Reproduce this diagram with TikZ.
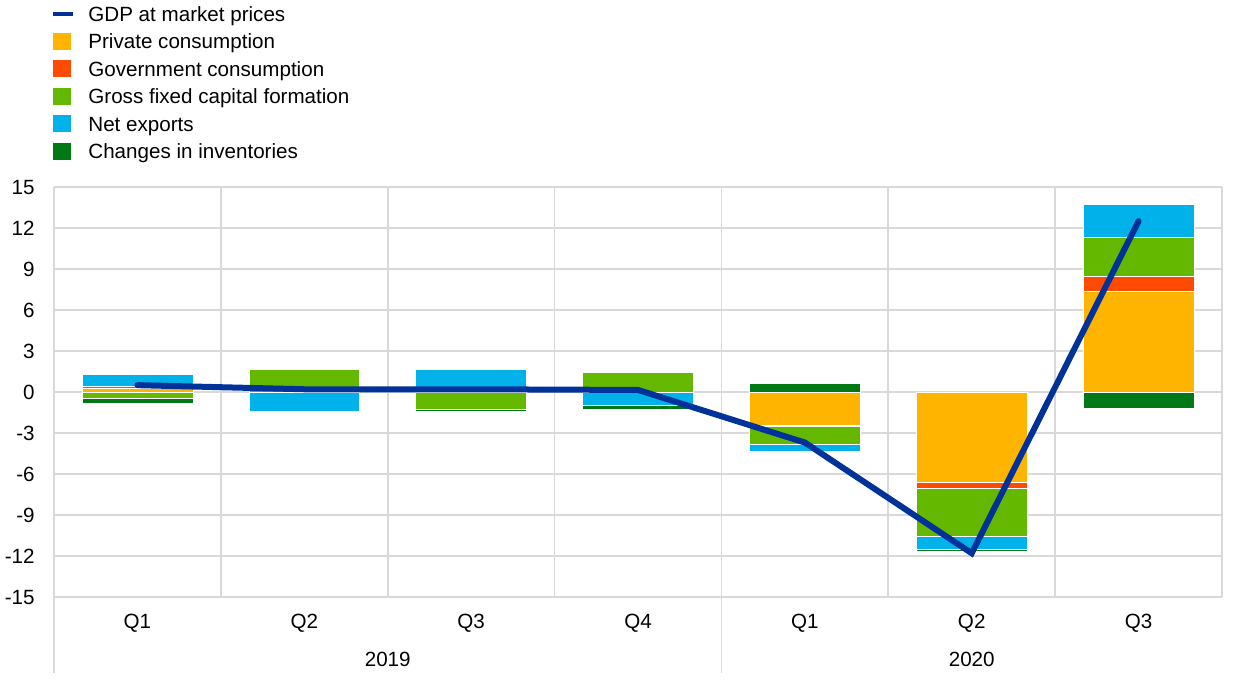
\documentclass[tikz,border=0pt]{standalone}
\usepackage{fontspec}
\setmainfont{Liberation Sans}
\definecolor{gdpblue}{HTML}{003299}
\definecolor{privcons}{HTML}{FFB400}
\definecolor{govcons}{HTML}{FF4B00}
\definecolor{gfcf}{HTML}{65B800}
\definecolor{netexp}{HTML}{00B1EA}
\definecolor{invent}{HTML}{007816}
\definecolor{gridgrey}{HTML}{D9D9D9}
\colorlet{part1}{privcons}
\colorlet{part2}{govcons}
\colorlet{part3}{gfcf}
\colorlet{part4}{netexp}
\colorlet{part5}{invent}

\begin{document}
\begin{tikzpicture}[x=83.43pt,y=6.8333pt,font=\fontsize{10.3}{12}\selectfont,
    grid/.style={gridgrey,line width=0.8pt},
    seg/.style={draw=white,line width=0.3pt},
    key/.style={inner sep=0,minimum width=9pt,minimum height=8.5pt},
    lab/.style={inner sep=0,text height=7.4pt,text depth=0pt},
    gdp/.style={gdpblue,line width=3pt,line cap=round}]
  \useasboundingbox (-0.3236,-22.097) rectangle (7.1078,28.683);
  % grid and axis labels
  \foreach \v [count=\n] in {-15,-12,...,15} {
    \draw[grid] (0,\v) -- (7,\v);
    \node[lab,anchor=east] (tick\n) at (-0.114,\v) {\v};
  }
  \foreach \i in {1,2,3,5,6,7} \draw[grid] (\i,-15) -- (\i,15);
  \draw[grid] (0,-20.56) -- (0,15);
  \draw[grid] (4,-20.56) -- (4,15);
  % stacked bars
  \foreach \q/\vals in {0/{0.3,0.1,-0.45,0.9,-0.37},1/{0,0,1.68,-1.44,0},
      2/{0,0,-1.27,1.68,-0.14},3/{0,0,1.44,-0.97,-0.3},
      4/{-2.41,-0.07,-1.32,-0.51,0.61},5/{-6.6,-0.42,-3.54,-0.93,-0.2},
      6/{7.34,1.13,2.85,2.41,-1.2}} {
    \gdef\cumpos{0}\gdef\cumneg{0}
    \foreach \v [count=\k] in \vals {
      \pgfmathsetmacro\barlo{\v<0 ? \cumneg+\v : \cumpos}
      \pgfmathsetmacro\barhi{\v<0 ? \cumneg : \cumpos+\v}
      \path[fill=part\k,seg] (\q+0.1675,\barlo) rectangle (\q+0.8325,\barhi);
      \pgfmathsetmacro\newpos{\v<0 ? \cumpos : \cumpos+\v}
      \pgfmathsetmacro\newneg{\v<0 ? \cumneg+\v : \cumneg}
      \xdef\cumpos{\newpos}\xdef\cumneg{\newneg}
    }
  }
  % GDP line
  \foreach \g [count=\n] in {0.5,0.2,0.2,0.15,-3.7,-11.8,12.5}
    \coordinate (g\n) at (\n-0.5,\g);
  \draw[gdp] (g1) -- (g2) -- (g3) -- (g4) -- (g5) -- (g6) -- (g7);
  % categories
  \foreach \lab [count=\n] in {Q1,Q2,Q3,Q4,Q1,Q2,Q3}
    \node[lab] (quarter\n) at (\n-0.5,-16.76) {\lab};
  \node[lab] (year2019) at (2,-19.54) {2019};
  \node[lab] (year2020) at (5.5,-19.54) {2020};
  % legend
  \node[key,minimum width=10pt,minimum height=2.4pt,fill=gdpblue] (key1) at (0.051,27.66) {};
  \node[lab,anchor=west] (label1) at (0.2038,27.66) {GDP at market prices};
  \foreach \name/\col [count=\n from 2] in {Private consumption/privcons,
      Government consumption/govcons,Gross fixed capital formation/gfcf,
      Net exports/netexp,Changes in inventories/invent} {
    \node[key,fill=\col] (key\n) at (0.048,{27.66-2.012*(\n-1)}) {};
    \node[lab,anchor=west] (label\n) at (0.2038,{27.66-2.012*(\n-1)}) {\name};
  }
\end{tikzpicture}
\end{document}
